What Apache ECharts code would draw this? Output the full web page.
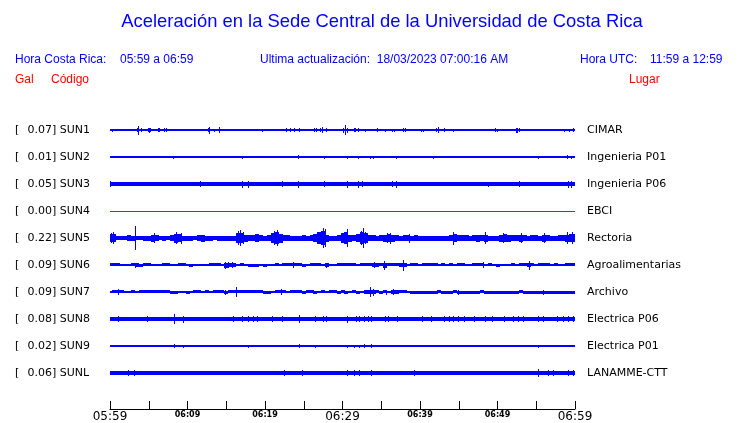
<!DOCTYPE html>
<html>
<head>
<meta charset="utf-8">
<script src="https://cdn.jsdelivr.net/npm/echarts@6/dist/echarts.min.js"></script>
<style>
html,body{margin:0;padding:0;background:#fff;}
#chart{width:740px;height:423px;}
</style>
</head>
<body>
<div id="chart"></div>
<script>
// ---------- DATA ----------
const stationCodes = ['SUN1','SUN2','SUN3','SUN4','SUN5','SUN6','SUN7','SUN8','SUN9','SUNL'];
const peakGal = ['0.07','0.01','0.05','0.00','0.22','0.09','0.09','0.08','0.02','0.06'];
const siteNames = ['CIMAR','Ingenieria P01','Ingenieria P06','EBCI','Rectoria','Agroalimentarias','Archivo','Electrica P06','Electrica P01','LANAMME-CTT'];
const timeTickLabels = ['05:59','','06:09','','06:19','','06:29','','06:39','','06:49','','06:59'];
const majorTickLabels = ['05:59','06:29','06:59'];

// background noise level of each trace (amplitude counts)
const noiseLevel = [0.8, 0.75, 2.0, 0.5, 0, 0.6, 0, 2.2, 0.75, 2.2];

// half-minute envelopes (amplitude counts), t = 0, 0.5, ... 60 min
const sun5Envelope = [4,4,2,1.8,2,3,2.5,2,2,2.5,2.5,3.5,3,2,2.5,2,3,4.5,4,2.5,2.5,2.5,2,3,3.5,2.5,2.5,2,2.5,2.5,2.5,2.5,2.5,5,5,3.5,3,3,4,3,2.5,3,5,6,4.5,3,3,2.5,2.5,2.5,3,2.5,3,4,6,7,3.5,2.5,2.5,3,5,6,3.5,3,4,6,5,3,3,2.5,3,3.5,4,3.5,3,2.5,3,3,2.5,3,2.5,2.5,2.5,2.5,2.5,2.5,2.5,2.5,3,4,3,3,3,2.5,3,3.5,3,3.5,2.5,2.5,2.5,3.5,4,3.5,3,3,3.5,3,2.5,3,3,2.5,3.5,3,2.5,2.5,3,3,3.5,4,4];
const sun6Envelope = [1.6,1.6,1.6,1.0,1.2,1.2,1.6,1.8,1.5,1.6,1.6,1.0,1.2,1.0,1.6,1.6,1.0,1.0,1.6,1.6,1.0,1.4,1.0,1.2,1.2,1.0,1.6,1.6,1.6,1.0,2.5,1.8,1.8,1.0,1.6,1.0,1.5,1.5,1.5,1.2,1.5,1.0,1.0,1.6,1.0,1.6,1.6,1.6,1.6,1.6,1.4,1.0,1.6,1.6,1.6,1.0,1.8,1.0,1.0,1.6,1.6,1.6,1.6,1.6,1.0,1.6,1.6,1.6,1.8,1.8,1.6,2.5,1.6,1.6,1.6,1.8,2.0,1.0,1.6,1.6,1.0,1.6,1.6,1.6,1.6,1.0,1.6,1.0,1.6,1.0,1.6,1.6,1.0,1.0,1.6,1.6,1.6,1.0,1.6,1.0,1.4,1.0,1.0,1.0,1.6,1.0,1.6,1.6,2.0,1.6,1.0,1.6,1.6,1.6,1.0,1.6,1.0,1.0,1.6,1.6,1.6];
const sun7Envelope = [0.8,1.6,1.6,1.6,1.0,1.0,1.6,1.0,1.6,1.6,1.6,1.6,1.6,1.6,1.6,1.6,1.4,1.4,1.0,1.0,1.4,1.0,1.6,1.6,1.0,1.6,1.0,1.6,1.6,1.6,1.4,1.6,1.6,1.6,1.6,1.6,1.6,1.6,1.6,1.6,1.4,1.4,1.0,1.6,1.6,1.6,1.0,1.6,1.6,1.6,1.4,1.6,1.6,1.4,1.0,1.6,1.0,1.6,1.6,1.4,1.6,1.4,1.0,1.6,1.4,1.0,1.8,2.0,1.8,1.6,1.4,1.6,1.0,1.8,1.8,1.6,1.6,1.0,1.5,1.5,1.5,1.5,1.5,1.5,1.5,1.6,1.5,1.5,1.5,1.6,1.5,1.5,1.5,1.5,1.5,1.5,1.6,1.5,1.5,1.5,1.5,1.5,1.5,1.5,1.5,1.5,1.6,1.5,1.5,1.5,1.5,1.5,1.5,1.5,1.5,1.5,1.5,1.5,1.5,1.5,1.5];

// isolated bursts [minute, amplitude counts]
const sun1Spikes = [[0.3,1.5],[0.86,1.2],[3.55,2],[3.66,4.5],[4.09,2],[5.0,2],[5.12,2.5],[5.3,2],[5.72,1.2],[6.3,2],[6.45,2],[7.1,2],[7.25,2],[10.11,1],[12.26,1.2],[12.75,2],[12.9,3.5],[13.55,1.5],[14.11,3],[15.4,1],[17.85,1],[18.58,1],[19.74,1.5],[22.8,2],[23.31,2],[23.78,2],[24.52,2],[25.07,1.2],[26.4,2],[26.6,2],[27.2,2],[27.4,3],[27.96,2],[30.2,2.5],[30.41,5],[30.6,2.5],[31.5,2],[31.7,2],[32.13,2],[32.95,1.5],[34.54,2],[35.57,1.5],[36.4,1.5],[36.7,1.5],[37.9,2],[38.1,2],[40.2,1.5],[40.5,1.5],[42.2,2],[42.37,3],[43.14,2],[44.3,1.5],[48.3,1.2],[49.75,2],[49.95,1.5],[52.4,2.5],[52.6,2.5],[52.8,2],[54.4,1],[55.4,1.2],[57.2,1.2],[58.62,1.5],[59.3,1.5],[59.8,2]];
const sun2Spikes = [[8.26,1.5],[17.08,1.5],[24.39,2],[27.74,1.5],[30.62,1.5],[32.13,1.5],[33.63,1.5],[33.98,1.5],[36.99,1.5],[41.72,1.5],[55.27,1.5],[59.05,2],[59.57,1.5]];
const sun3Spikes = [[0.05,3],[11.7,3],[17.08,3.5],[17.85,3.5],[22.24,3],[24.39,3.5],[27.66,3],[30.62,3.5],[32.13,3.5],[32.56,3],[36.43,3],[36.99,3.5],[48.82,2.5],[52.82,3],[59.14,3.5],[59.6,3.5]];
const sun4Spikes = [];
const sun5Spikes = [[0.2,5],[0.4,6],[3.3,12],[5.8,5],[8.6,6],[9.3,5.5],[16.6,7],[16.9,8],[17.3,6],[21.3,7],[21.6,8],[27.5,10],[27.8,9],[30.3,6],[30.6,9],[32.4,7],[32.7,10],[33.0,6],[35.8,5],[36.2,5.5],[38.7,4.5],[44.3,6.5],[48.4,6],[50.8,5],[53.1,5],[56.1,5],[59.1,6],[59.7,6]];
const sun6Spikes = [[3.31,2.5],[14.9,3.5],[15.3,3],[15.8,3],[23.7,3],[27.96,2.5],[34.2,3],[35.4,4.5],[37.85,5.5],[48.2,3],[54.2,4.5]];
const sun7Spikes = [[1.08,3],[14.9,2.5],[16.34,5],[22.15,3],[33.6,5],[34.0,3.5],[35.7,2.5],[36.56,3],[44.95,2.5],[55.9,2.5]];
const sun8Spikes = [[1.08,3],[4.86,3],[8.39,5],[9.46,3.5],[15.91,3],[17.08,3],[17.85,3],[18.49,3],[19.05,3],[20.95,3],[22.24,3],[24.43,4],[26.54,3],[27.53,3],[27.96,3],[30.67,3.5],[31.83,3],[32.26,3],[32.82,3],[33.33,3],[33.76,3],[35.57,3],[35.91,3],[37.08,3],[40.3,3],[41.5,3],[43.14,3],[43.87,3],[44.3,3],[44.95,3],[45.81,3],[47.1,3],[48.52,3],[49.38,3],[50.97,3],[52.04,3],[52.69,3],[53.33,3],[55.27,3],[55.91,3],[57.76,3],[58.49,3],[59.14,3],[59.78,3]];
const sun9Spikes = [[8.39,2],[9.46,1.5],[15.05,1.2],[17.94,1.5],[18.92,1.2],[22.24,1.2],[24.43,2],[26.54,1.5],[27.31,1.2],[29.03,1.2],[30.67,1.5],[31.61,1.5],[32.26,1.5],[32.82,2],[33.76,2],[35.57,1.2],[36.99,1.2],[39.14,1.2],[42.58,1.2],[52.82,1.2],[55.27,1.5]];
const sunLSpikes = [[2.37,3],[3.14,3],[22.58,2.8],[24.86,3],[30.67,3],[31.61,3],[32.26,3],[33.76,3],[39.35,2.8],[55.27,3.8],[56.56,3],[57.2,3],[59.14,3],[59.78,3]];

const envelopes = [null,null,null,null,sun5Envelope,sun6Envelope,sun7Envelope,null,null,null];
const spikes = [sun1Spikes,sun2Spikes,sun3Spikes,sun4Spikes,sun5Spikes,sun6Spikes,sun7Spikes,sun8Spikes,sun9Spikes,sunLSpikes];
const traceColors = ['#0000ff','#0000ff','#0000ff','#ff0000','#0000ff','#0000ff','#0000ff','#0000ff','#0000ff','#0000ff'];

const SPAN_MIN = 60;        // minutes shown
const ENV_STEP = 0.5;       // minutes between envelope samples
const SPIKE_DUR = 0.15;     // minutes per burst sample
const COUNTS_PER_ROW = 27;  // amplitude counts per trace spacing

// ---------- BUILD ----------
function buildItems(row, i) {
  const items = [];
  if (noiseLevel[i] > 0) items.push([row, 0, SPAN_MIN, noiseLevel[i]]);
  const env = envelopes[i];
  if (env) env.forEach((a, k) => {
    const t = k * ENV_STEP;
    items.push([row, Math.max(0, t - ENV_STEP / 2), Math.min(SPAN_MIN, t + ENV_STEP / 2), a]);
  });
  spikes[i].forEach(([t, a]) => items.push([row, Math.max(0, t - SPIKE_DUR / 2), Math.min(SPAN_MIN, t + SPIKE_DUR / 2), a]));
  return items;
}

function renderTrace(color) {
  return function (params, api) {
    const row = api.value(0), t0 = api.value(1), t1 = api.value(2), a = api.value(3) / COUNTS_PER_ROW;
    const p0 = api.coord([t0, row - a]);
    const p1 = api.coord([t1, row + a]);
    const x = Math.round(Math.min(p0[0], p1[0]));
    const y = Math.round(Math.min(p0[1], p1[1]));
    const w = Math.max(Math.round(Math.abs(p1[0] - p0[0])), 1);
    const h = Math.max(Math.round(Math.abs(p1[1] - p0[1])), 1);
    return { type: 'rect', shape: { x: x, y: y, width: w, height: h }, style: { fill: color } };
  };
}

const series = stationCodes.map((code, i) => ({
  type: 'custom',
  name: code,
  xAxisIndex: 0,
  yAxisIndex: 0,
  silent: true,
  animation: false,
  renderItem: renderTrace(traceColors[i]),
  encode: { x: [1, 2], y: 0 },
  data: buildItems(i + 1, i)
}));

const chart = echarts.init(document.getElementById('chart'), null, { renderer: 'canvas' });
const blue = '#0000ff', red = '#ff0000';
const hdrFont = '12px "Liberation Sans", Arial, sans-serif';

chart.setOption({
  backgroundColor: '#ffffff',
  animation: false,
  grid: { left: 110, right: 165, top: 103, height: 306, containLabel: false },
  xAxis: {
    type: 'value', min: 0, max: SPAN_MIN, interval: 5, position: 'bottom',
    axisLine: { show: true, onZero: false, lineStyle: { color: '#000', width: 1 } },
    axisTick: { show: true, inside: true, length: 8, lineStyle: { color: '#000' } },
    splitLine: { show: false },
    axisLabel: {
      margin: 1, color: '#000',
      formatter: function (v) {
        const lbl = timeTickLabels[Math.round(v / 5)] || '';
        if (!lbl) return '';
        return majorTickLabels.indexOf(lbl) >= 0 ? '{big|' + lbl + '}' : '{small|' + lbl + '}';
      },
      rich: {
        big: { fontFamily: 'DejaVu Sans', fontSize: 12, color: '#000', lineHeight: 14 },
        small: { fontFamily: 'DejaVu Sans', fontSize: 8, fontWeight: 'bold', color: '#000', lineHeight: 10 }
      }
    }
  },
  yAxis: [
    {
      type: 'value', min: 0, max: 11.3333, interval: 1, inverse: true, position: 'left',
      axisLine: { show: false }, axisTick: { show: false }, splitLine: { show: false },
      axisLabel: {
        margin: 95, align: 'left', color: '#000', fontFamily: 'DejaVu Sans', fontSize: 11,
        formatter: function (v) {
          const i = Math.round(v) - 1;
          if (Math.abs(v - Math.round(v)) > 1e-6 || i < 0 || i >= stationCodes.length) return '';
          return '{br|[}' + peakGal[i] + '] ' + stationCodes[i];
        },
        rich: { br: { width: 12.5, fontFamily: 'DejaVu Sans', fontSize: 11, color: '#000' } }
      }
    },
    {
      type: 'value', min: 0, max: 11.3333, interval: 1, inverse: true, position: 'right',
      axisLine: { show: false }, axisTick: { show: false }, splitLine: { show: false },
      axisLabel: {
        margin: 12, align: 'left', color: '#000', fontFamily: 'DejaVu Sans', fontSize: 11,
        formatter: function (v) {
          const i = Math.round(v) - 1;
          if (Math.abs(v - Math.round(v)) > 1e-6 || i < 0 || i >= siteNames.length) return '';
          return siteNames[i];
        }
      }
    }
  ],
  graphic: [
    { type: 'text', x: 382, y: 22, style: { text: 'Aceleración en la Sede Central de la Universidad de Costa Rica', font: '18.4px "Liberation Sans", Arial, sans-serif', fill: blue, textAlign: 'center', textVerticalAlign: 'middle' } },
    { type: 'text', x: 15, y: 60, style: { text: 'Hora Costa Rica:', font: hdrFont, fill: blue, textVerticalAlign: 'middle' } },
    { type: 'text', x: 120, y: 60, style: { text: '05:59 a 06:59', font: hdrFont, fill: blue, textVerticalAlign: 'middle' } },
    { type: 'text', x: 260, y: 60, style: { text: 'Ultima actualización:  18/03/2023 07:00:16 AM', font: hdrFont, fill: blue, textVerticalAlign: 'middle' } },
    { type: 'text', x: 580, y: 60, style: { text: 'Hora UTC:', font: hdrFont, fill: blue, textVerticalAlign: 'middle' } },
    { type: 'text', x: 650, y: 60, style: { text: '11:59 a 12:59', font: hdrFont, fill: blue, textVerticalAlign: 'middle' } },
    { type: 'text', x: 15, y: 80, style: { text: 'Gal', font: hdrFont, fill: red, textVerticalAlign: 'middle' } },
    { type: 'text', x: 51, y: 80, style: { text: 'Código', font: hdrFont, fill: red, textVerticalAlign: 'middle' } },
    { type: 'text', x: 629, y: 80, style: { text: 'Lugar', font: hdrFont, fill: red, textVerticalAlign: 'middle' } }
  ],
  series: series
});
</script>
</body>
</html>
